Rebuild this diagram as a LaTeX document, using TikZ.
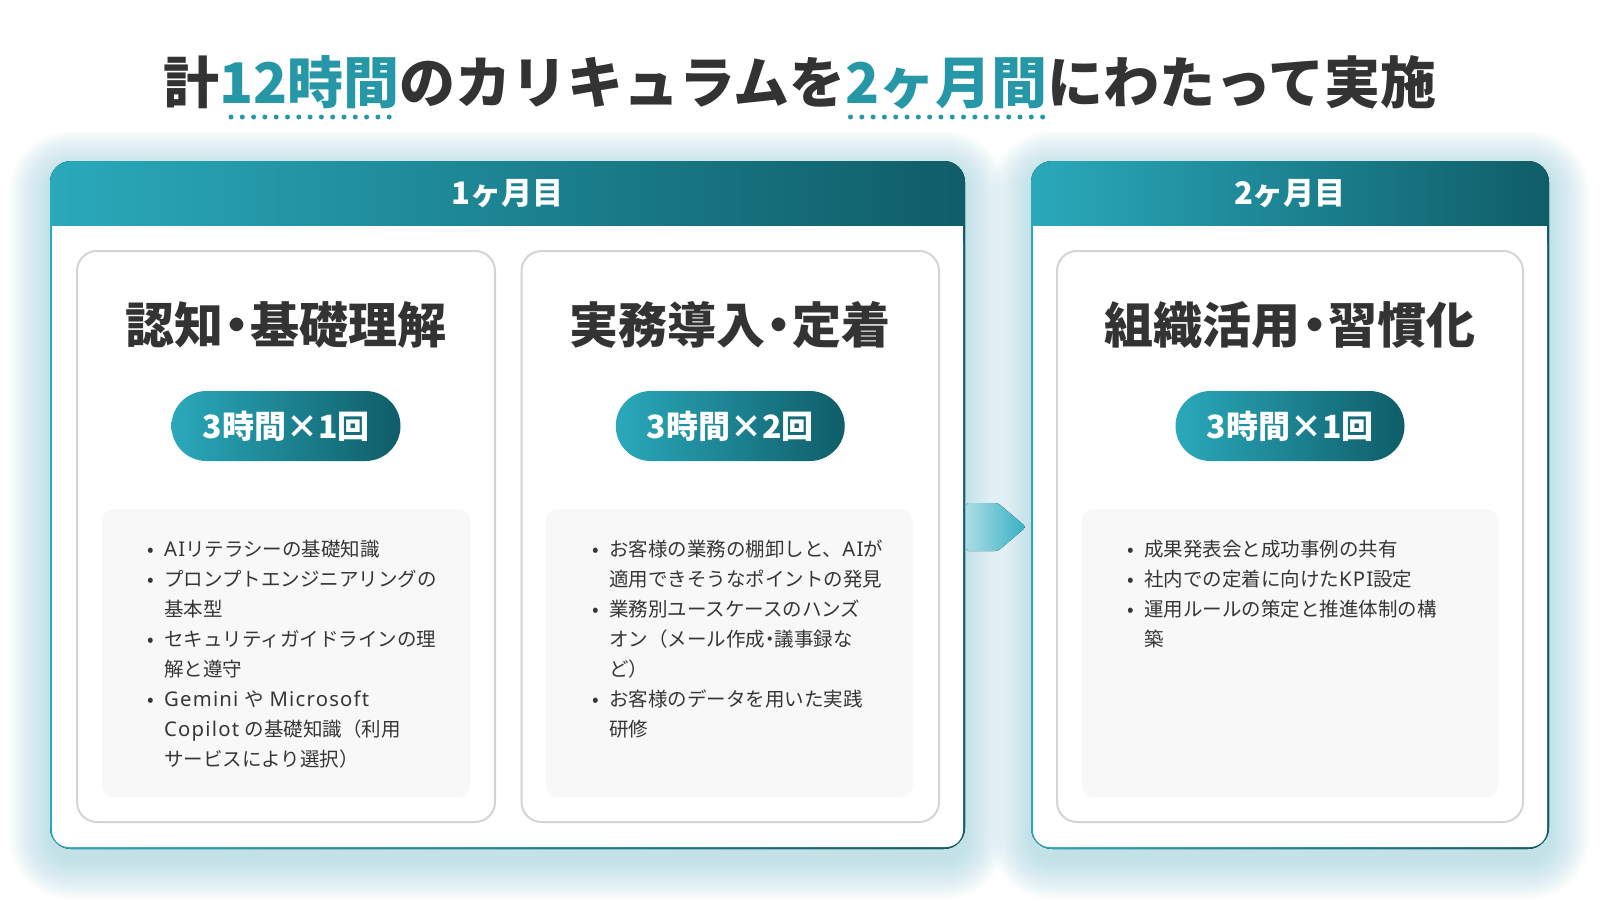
\documentclass[tikz,border=0pt]{standalone}
\usepackage{fontspec}
\setmainfont{Noto Sans CJK JP}
\newfontfamily\lat{Noto Sans}[Scale=1.04, LetterSpace=6]
\usetikzlibrary{calc}
\definecolor{tl}{HTML}{2AA9BB}
\definecolor{td}{HTML}{0F5D68}
\definecolor{tt}{HTML}{2597A6}
\definecolor{ink}{HTML}{333333}
\definecolor{ink2}{HTML}{363636}
\definecolor{glow}{HTML}{96D2DE}
\definecolor{lineg}{HTML}{D4D4D4}
\definecolor{boxg}{HTML}{F8F8F8}
\definecolor{arl}{HTML}{AADDE5}
\definecolor{arr}{HTML}{36B0C2}
\newcommand\bl{\makebox[23pt][l]{\hspace{10pt}\makebox[0pt]{•}}}
\newcommand\cn{\makebox[23pt]{}}
\newcommand\hdot{\hspace{-0.22em}・\hspace{-0.22em}}
\newcommand\sdot{\makebox[0.5em]{・}}
\newcommand\wsp{\hspace{0.3em}}
\begin{document}
\begin{tikzpicture}[x=1pt,y=-1pt,
  ttl/.style={font=\fontsize{56}{60}\selectfont\bfseries, inner sep=0pt, outer sep=0pt, anchor=base west},
  hdr/.style={font=\fontsize{31}{34}\selectfont\bfseries, text=white, inner sep=0pt},
  head/.style={font=\fontsize{49}{52}\selectfont\bfseries, text=ink, inner sep=0pt},
  pill/.style={left color=tl, right color=td, rounded corners=35pt, minimum width=229pt, minimum height=70pt, inner sep=0pt, font=\fontsize{32}{34}\selectfont\bfseries, text=white},
  inbox/.style={draw=lineg, line width=2pt, fill=white, rounded corners=20pt, inner sep=0pt},
  gbox/.style={fill=boxg, rounded corners=12pt, inner sep=0pt, minimum height=288pt},
  lst/.style={font=\fontsize{19.5}{30}\selectfont, text=ink2, align=left, anchor=north west, inner sep=0pt},
  dotl/.style={tt, line width=5pt, line cap=round, dash pattern=on 0pt off 11.3pt}
]
\useasboundingbox[fill=white] (0,0) rectangle (1600,900);

% soft glow behind the cards
\foreach \xa/\xb in {50/965,1031/1549}{
  \foreach \k [evaluate=\k as \rr using 20+2*\k] in {1,...,20}{
    \fill[glow, opacity=0.035, rounded corners=\rr pt] ({\xa-2*\k},{161-2*\k+10}) rectangle ({\xb+2*\k},{849+2*\k+10});
  }
}

% arrow between months
\fill[left color=arl, right color=arr, rounded corners=3pt] (966,503) -- (998,503) -- (1026,527) -- (998,551) -- (966,551) -- cycle;

% cards
\foreach \xa/\xb in {50/965,1031/1549}{
  \fill[left color=tl, right color=td, rounded corners=21pt] (\xa,161) rectangle (\xb,849);
  \fill[white, rounded corners=17pt] ({\xa+2},226) rectangle ({\xb-2},847);
  \fill[white] ({\xa+2},226) rectangle ({\xb-2},250);
}

\node[hdr] (h1) at (507.5,194) {1ヶ月目};
\node[hdr] (h2) at (1290,194) {2ヶ月目};

% title
\node[ttl, text=ink] (t1) at (163,103) {計};
\node[ttl, text=tt] (t2) at (t1.base east) {12時間};
\node[ttl, text=ink] (t3) at (t2.base east) {のカリキュラムを};
\node[ttl, text=tt] (t4) at (t3.base east) {2ヶ月間};
\node[ttl, text=ink] (t5) at (t4.base east) {にわたって実施};
\draw[dotl] ($(t2.west |- 0,117)+(12,0)$) -- ($(t2.east |- 0,117)+(-5,0)$);
\draw[dotl] ($(t4.west |- 0,117)+(5,0)$) -- ($(t4.east |- 0,117)+(-5,0)$);

% inner boxes
\node[inbox, minimum width=418pt, minimum height=571pt] (b1) at (286,536.5) {};
\node[inbox, minimum width=417.5pt, minimum height=571pt] (b2) at (730.25,536.5) {};
\node[inbox, minimum width=466pt, minimum height=571pt] (b3) at (1290,536.5) {};

\node[head] (k1) at (286,325) {認知\hdot 基礎理解};
\node[head] (k2) at (730.25,325) {実務導入\hdot 定着};
\node[head] (k3) at (1290,325) {組織活用\hdot 習慣化};

\node[pill] (p1) at (286,426) {3時間×1回};
\node[pill] (p2) at (730.25,426) {3時間×2回};
\node[pill] (p3) at (1290,426) {3時間×1回};

\node[gbox, minimum width=368pt] (g1) at (286,653) {};
\node[gbox, minimum width=367pt] (g2) at (729.5,653) {};
\node[gbox, minimum width=416pt] (g3) at (1290,653) {};

\node[lst] (l1) at (141,540) {%
\bl {\lat AI}リテラシーの基礎知識\\%
\bl プロンプトエンジニアリングの\\%
\cn 基本型\\%
\bl セキュリティガイドラインの理\\%
\cn 解と遵守\\%
\bl {\lat Gemini}\wsp や\wsp{\lat Microsoft}\\%
\cn {\lat Copilot}\wsp の基礎知識（利用\\%
\cn サービスにより選択）};

\node[lst] (l2) at (586,540) {%
\bl お客様の業務の棚卸しと、{\lat AI}が\\%
\cn 適用できそうなポイントの発見\\%
\bl 業務別ユースケースのハンズ\\%
\cn オン（メール作成\sdot 議事録な\\%
\cn ど）\\%
\bl お客様のデータを用いた実践\\%
\cn 研修};

\node[lst] (l3) at (1121,540) {%
\bl 成果発表会と成功事例の共有\\%
\bl 社内での定着に向けた{\lat KPI}設定\\%
\bl 運用ルールの策定と推進体制の構\\%
\cn 築};
\end{tikzpicture}
\end{document}
